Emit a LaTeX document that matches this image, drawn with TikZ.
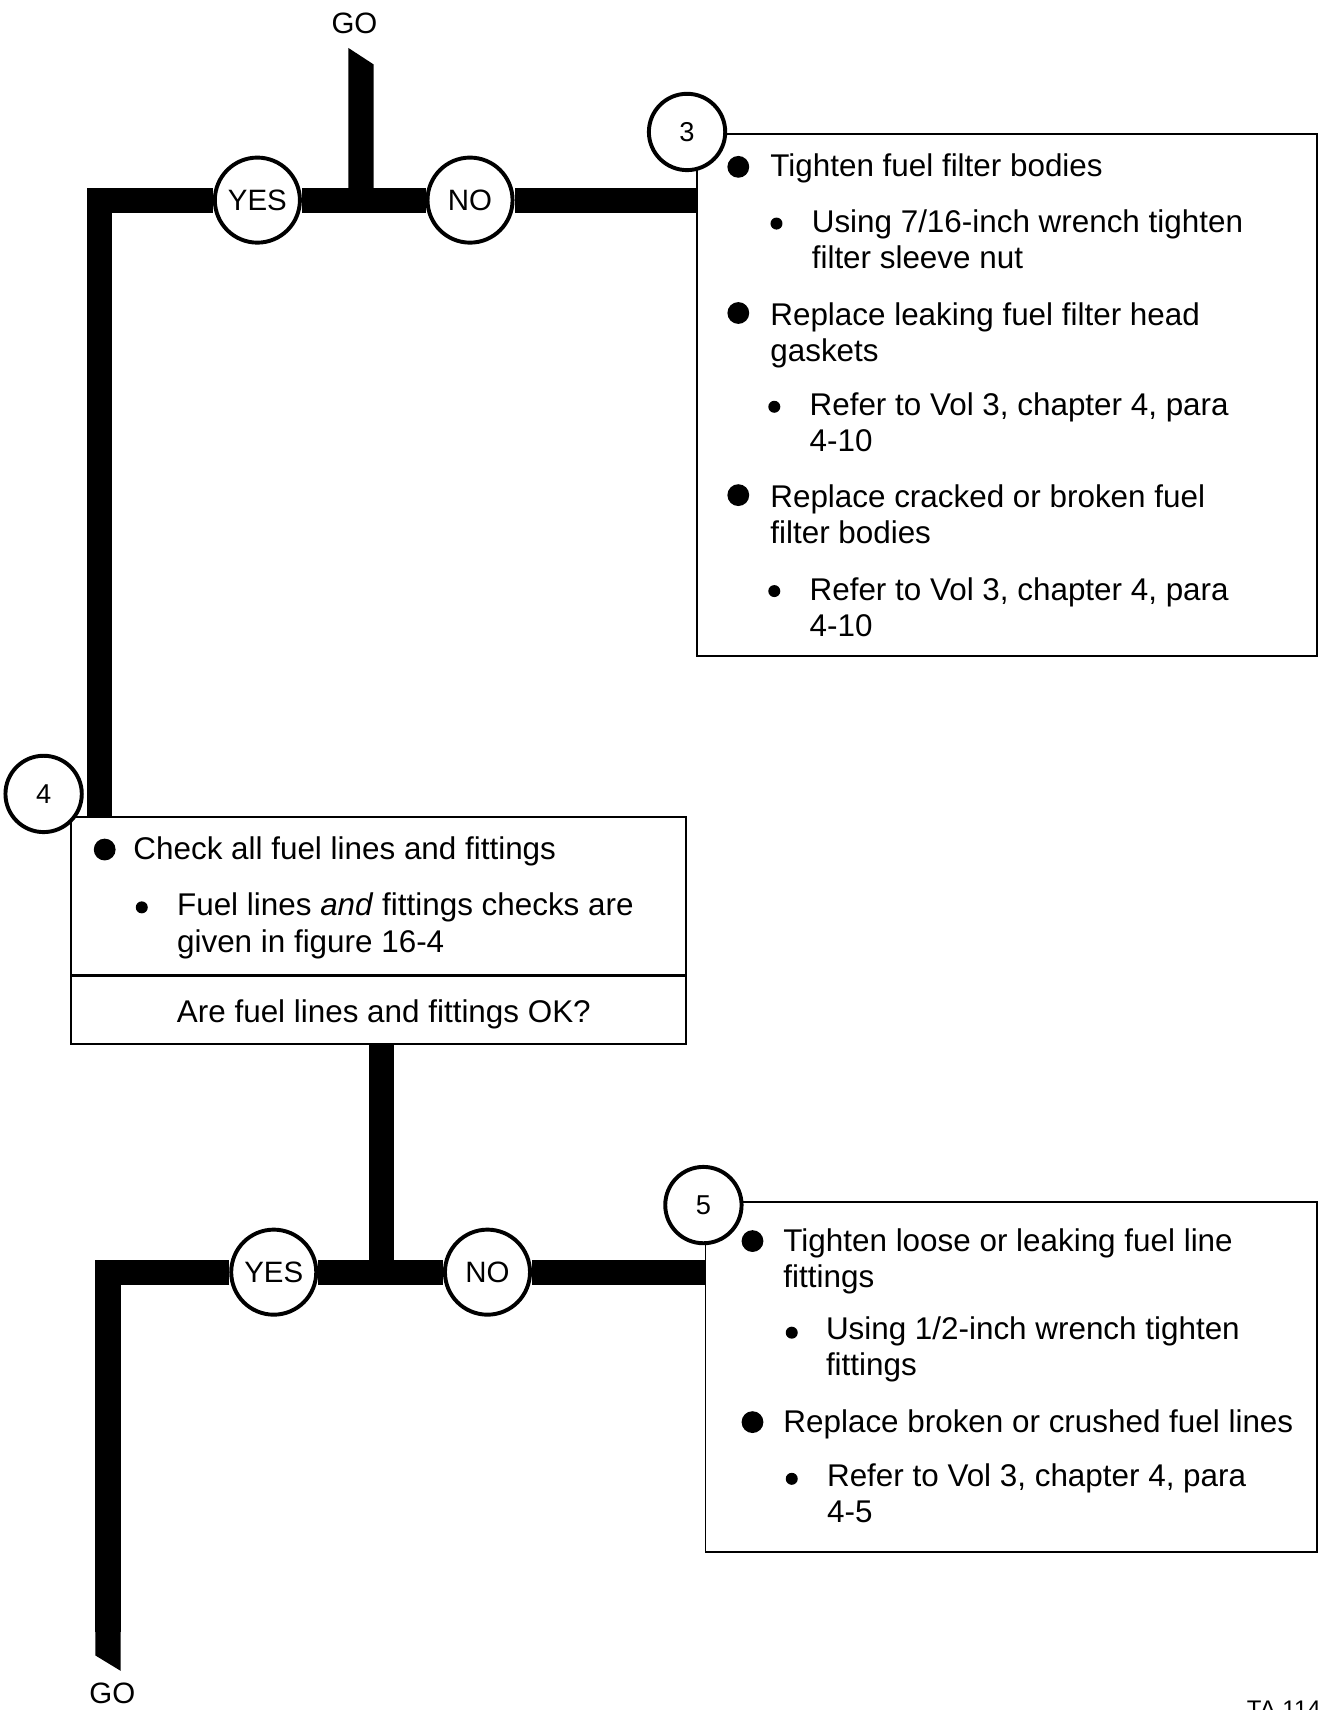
\documentclass[tikz,border=0pt]{standalone}
\usepackage{fontspec}
\setmainfont{Liberation Sans}
\usetikzlibrary{backgrounds}

\begin{document}
\begin{tikzpicture}[x=0.5pt,y=-0.5pt,
  bar/.style={line width=11.5pt},
  box/.style={draw,line width=0.9pt,anchor=north west,inner sep=0pt},
  tag/.style={circle,draw,fill=white,line width=1.8pt,minimum size=39pt,inner sep=0pt,font=\fontsize{13.5}{15}\selectfont},
  stepnum/.style={circle,draw,fill=white,line width=1.8pt,minimum size=35pt,inner sep=0pt,font=\fontsize{12.5}{14}\selectfont},
  lbl/.style={inner sep=0pt,font=\fontsize{13.5}{15}\selectfont},
  txt/.style={anchor=north west,inner sep=0pt,align=left,font=\fontsize{14.4}{16.5}\selectfont},
  bigdot/.style={circle,fill,inner sep=0pt,minimum size=10pt},
  smalldot/.style={circle,fill,inner sep=0pt,minimum size=5.5pt}]
  \useasboundingbox (0,0) rectangle (1209,1568);
  \clip (0,0) rectangle (1209,1568);

  % action boxes
  \node[box,minimum width=284.5pt,minimum height=239.5pt] (box3) at (638,122) {};
  \node[box,line width=1.2pt,minimum width=282pt,minimum height=72.5pt] (chk4) at (64,748) {};
  \node[box,line width=1.2pt,minimum width=282pt,minimum height=31.5pt] (ask4) at (64,893) {};
  \node[box,minimum width=280.5pt,minimum height=160.5pt] (box5) at (646,1101) {};

  % step numbers
  \node[stepnum] (s3) at (630,121) {3};
  \node[stepnum] (s4) at (40,728) {4};
  \node[stepnum] (s5) at (645,1105) {5};

  % yes / no
  \node[tag] (yes1) at (236,183.5) {YES};
  \node[tag] (no1) at (431,183.5) {NO};
  \node[tag] (yes2) at (251,1166.5) {YES};
  \node[tag] (no2) at (447,1166.5) {NO};
  \node[lbl] (go1) at (325,21) {GO};
  \node[lbl] (go2) at (103,1553) {GO};

  % step 3
  \node[bigdot] (b31) at (677,153) {};
  \node[txt] (t31) at (706,141) {Tighten fuel filter bodies};
  \node[smalldot] (d31) at (712,205) {};
  \node[txt] (u31) at (744,192) {Using 7/16-inch wrench tighten\\filter sleeve nut};
  \node[bigdot] (b32) at (677,287) {};
  \node[txt] (t32) at (706,277) {Replace leaking fuel filter head\\gaskets};
  \node[smalldot] (d32) at (710,373) {};
  \node[txt] (u32) at (742,360) {Refer to Vol 3, chapter 4, para\\4-10};
  \node[bigdot] (b33) at (677,454) {};
  \node[txt] (t33) at (706,444) {Replace cracked or broken fuel\\filter bodies};
  \node[smalldot] (d33) at (710,542) {};
  \node[txt] (u33) at (742,529) {Refer to Vol 3, chapter 4, para\\4-10};

  % step 4
  \node[bigdot] (b41) at (96,779) {};
  \node[txt] (t41) at (122,767) {Check all fuel lines and fittings};
  \node[smalldot] (d41) at (130,832) {};
  \node[txt,font=\fontsize{14.4}{17}\selectfont] (u41) at (162,818) {Fuel lines \textit{and} fittings checks are\\given in figure 16-4};
  \node[txt,anchor=north] (q4) at (352,916) {Are fuel lines and fittings OK?};

  % step 5
  \node[bigdot] (b51) at (690,1138) {};
  \node[txt] (t51) at (718,1126) {Tighten loose or leaking fuel line\\fittings};
  \node[smalldot] (d51) at (726,1222) {};
  \node[txt] (u51) at (757,1207) {Using 1/2-inch wrench tighten\\fittings};
  \node[bigdot] (b52) at (690,1304) {};
  \node[txt] (t52) at (718,1292) {Replace broken or crushed fuel lines};
  \node[smalldot] (d52) at (726,1356) {};
  \node[txt] (u52) at (758,1342) {Refer to Vol 3, chapter 4, para\\4-5};

  \node[anchor=north west,inner sep=0pt,font=\fontsize{11}{13}\selectfont] (ta) at (1143,1559) {TA 1147};

  % flow bars
  \begin{pgfonlayer}{background}
    \coordinate (j1) at (331,183.5);
    \coordinate (c1) at (91.5,183.5);
    \fill (319.5,44) -- (342.5,59) -- (342.5,190) -- (319.5,190) -- cycle;
    \draw[bar] (j1 -| box3.west) -- (no1) -- (yes1) -- (c1) -- (c1 |- chk4.north);
    \coordinate (j2) at (350,1166.5);
    \coordinate (c2) at (99,1166.5);
    \draw[bar] (ask4.south -| j2) -- (j2);
    \draw[bar] (j2 -| box5.west) -- (no2) -- (yes2) -- (c2) -- ++(0,330);
    \fill (87.5,1490) -- (110.5,1490) -- (110.5,1532) -- (87.5,1518) -- cycle;
  \end{pgfonlayer}
\end{tikzpicture}
\end{document}
